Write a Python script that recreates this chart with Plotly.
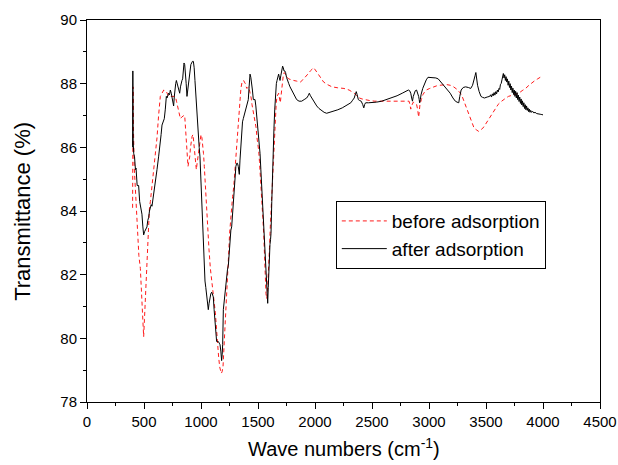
import plotly.graph_objects as go

# after adsorption (black solid)
after_x = [400, 402, 405, 410, 417, 425, 430, 440, 453, 462, 472, 482, 490, 497, 505, 512, 520, 526, 533, 541,
           548, 556, 563, 570, 585, 600, 614, 628, 643, 650, 658, 668, 678, 687, 696, 702, 708, 716, 724, 731,
           739, 746, 753, 760, 766, 772, 778, 784, 791, 798, 806, 813, 820, 827, 833, 839, 845, 851, 857, 863,
           870, 877, 883, 889, 896, 904, 911, 918, 925, 933, 940, 947, 955, 962, 970, 977, 984, 991, 998, 1006,
           1013, 1020, 1028, 1035, 1042, 1050, 1057, 1064, 1071, 1079, 1086, 1094, 1101, 1108, 1115, 1123, 1130,
           1137, 1145, 1152, 1160, 1167, 1174, 1181, 1186, 1190, 1196, 1204, 1211, 1218, 1225, 1232, 1240, 1247,
           1254, 1262, 1269, 1277, 1284, 1291, 1298, 1306, 1313, 1320, 1327, 1336, 1342, 1348, 1353, 1357, 1364,
           1371, 1379, 1386, 1393, 1400, 1408, 1415, 1422, 1430, 1437, 1444, 1451, 1459, 1466, 1474, 1481, 1488,
           1495, 1503, 1510, 1518, 1525, 1532, 1540, 1547, 1554, 1561, 1568, 1576, 1581, 1585, 1590, 1594, 1600,
           1605, 1610, 1614, 1621, 1628, 1634, 1640, 1647, 1655, 1661, 1667, 1674, 1681, 1687, 1693, 1700, 1708,
           1716, 1722, 1728, 1735, 1742, 1750, 1757, 1770, 1781, 1795, 1810, 1825, 1839, 1860, 1883, 1905, 1927,
           1940, 1950, 1960, 1971, 1990, 2015, 2035, 2059, 2080, 2102, 2130, 2164, 2200, 2239, 2275, 2314, 2330,
           2344, 2355, 2362, 2370, 2380, 2392, 2405, 2418, 2428, 2436, 2444, 2470, 2495, 2540, 2585, 2630, 2675,
           2720, 2765, 2795, 2819, 2830, 2840, 2848, 2855, 2862, 2870, 2880, 2891, 2900, 2909, 2914, 2918, 2924,
           2930, 2945, 2961, 2976, 2991, 3010, 3036, 3060, 3081, 3104, 3126, 3156, 3186, 3210, 3231, 3246, 3261,
           3270, 3282, 3300, 3321, 3345, 3366, 3382, 3396, 3404, 3411, 3418, 3426, 3440, 3456, 3470, 3487, 3510,
           3532, 3540, 3548, 3556, 3563, 3571, 3578, 3586, 3593, 3600, 3607, 3614, 3620, 3627, 3633, 3640, 3646,
           3652, 3658, 3664, 3670, 3676, 3682, 3688, 3694, 3700, 3706, 3712, 3718, 3724, 3730, 3736, 3742, 3748,
           3754, 3760, 3766, 3772, 3778, 3784, 3790, 3796, 3802, 3808, 3814, 3820, 3826, 3832, 3838, 3844, 3850,
           3856, 3862, 3868, 3874, 3880, 3886, 3892, 3900, 3910, 3920, 3930, 3945, 3960, 3975, 3990, 4000]
after_y = [86.0, 88.4, 86.2, 85.8, 85.7, 85.3, 85.35, 84.8, 84.8, 84.3, 84.1, 83.9, 83.5, 83.25, 83.35, 83.4,
           83.45, 83.5, 83.7, 83.8, 84.0, 84.1, 84.2, 84.15, 84.5, 84.9, 85.3, 85.7, 86.1, 86.4, 86.7, 86.8, 86.9,
           87.2, 87.6, 87.55, 87.6, 87.7, 87.65, 87.8, 87.7, 87.6, 87.45, 87.3, 87.6, 87.9, 88.0, 88.1, 88.0, 87.9,
           87.8, 87.7, 87.9, 88.1, 88.1, 88.15, 88.4, 88.65, 88.6, 88.4, 88.0, 87.6, 87.8, 88.0, 88.3, 88.5, 88.6,
           88.65, 88.7, 88.7, 88.5, 88.1, 87.6, 87.05, 86.7, 86.4, 86.0, 85.7, 85.0, 84.3, 83.7, 83.1, 82.4, 81.8,
           81.6, 81.4, 81.1, 80.9, 81.1, 81.3, 81.4, 81.45, 81.4, 81.3, 80.9, 80.5, 80.2, 79.9, 79.9, 79.9, 79.85,
           79.8, 79.6, 79.3, 79.5, 79.8, 80.9, 81.2, 81.5, 81.8, 82.0, 82.15, 82.3, 82.8, 83.3, 83.4, 83.5, 83.9,
           84.3, 84.8, 85.2, 85.4, 85.5, 85.5, 85.4, 85.15, 85.6, 86.05, 86.4, 86.7, 86.8, 86.9, 87.0, 87.1, 87.2,
           87.3, 87.4, 87.5, 87.9, 88.3, 88.2, 88.05, 87.8, 87.5, 87.5, 87.5, 87.3, 87.05, 86.8, 86.4, 86.1, 85.8,
           85.3, 84.75, 84.3, 83.8, 83.3, 82.8, 82.2, 81.6, 81.3, 81.1, 81.6, 82.2, 82.6, 82.95, 83.1, 83.3, 84.3,
           85.35, 86.0, 86.6, 87.2, 87.85, 88.0, 88.1, 88.2, 88.3, 88.2, 88.1, 88.25, 88.4, 88.55, 88.5, 88.4, 88.4,
           88.35, 88.2, 88.1, 88.0, 87.9, 87.8, 87.7, 87.6, 87.5, 87.45, 87.45, 87.5, 87.55, 87.62, 87.7, 87.62,
           87.55, 87.42, 87.3, 87.22, 87.15, 87.1, 87.07, 87.1, 87.13, 87.18, 87.24, 87.32, 87.4, 87.48, 87.55,
           87.68, 87.75, 87.65, 87.5, 87.47, 87.45, 87.35, 87.24, 87.35, 87.4, 87.4, 87.4, 87.42, 87.45, 87.5,
           87.55, 87.62, 87.7, 87.76, 87.8, 87.78, 87.7, 87.55, 87.45, 87.6, 87.7, 87.78, 87.8, 87.72, 87.6, 87.5,
           87.4, 87.5, 87.65, 87.85, 88.0, 88.12, 88.2, 88.2, 88.2, 88.18, 88.15, 88.05, 87.95, 87.82, 87.7, 87.55,
           87.45, 87.42, 87.4, 87.6, 87.8, 87.88, 87.9, 87.88, 87.85, 87.95, 88.1, 88.25, 88.35, 88.15, 87.95,
           87.75, 87.6, 87.57, 87.55, 87.58, 87.6, 87.65, 87.58, 87.68, 87.62, 87.72, 87.64, 87.75, 87.68, 87.8,
           87.74, 87.85, 87.82, 87.98, 88.0, 88.12, 88.2, 88.32, 88.18, 88.28, 88.1, 88.22, 88.05, 88.15, 87.95,
           88.08, 87.88, 88.0, 87.8, 87.92, 87.72, 87.86, 87.66, 87.8, 87.6, 87.76, 87.55, 87.72, 87.5, 87.64,
           87.44, 87.58, 87.38, 87.52, 87.33, 87.46, 87.28, 87.4, 87.22, 87.34, 87.18, 87.3, 87.16, 87.24, 87.12,
           87.2, 87.1, 87.16, 87.1, 87.13, 87.08, 87.1, 87.06, 87.06, 87.04, 87.03, 87.02]

# before adsorption (red dashed)
before_x = [400, 404, 408, 414, 420, 428, 440, 455, 468, 476, 482, 490, 497, 504, 512, 519, 526, 533, 541, 548,
            556, 570, 585, 600, 614, 628, 643, 658, 673, 685, 696, 706, 716, 730, 746, 760, 775, 785, 795, 807,
            819, 831, 842, 850, 857, 864, 871, 878, 886, 893, 901, 908, 915, 922, 930, 937, 944, 951, 959, 966,
            974, 981, 988, 1000, 1008, 1015, 1022, 1029, 1036, 1044, 1052, 1061, 1070, 1082, 1094, 1105, 1116,
            1126, 1136, 1146, 1155, 1164, 1171, 1178, 1185, 1193, 1200, 1208, 1215, 1222, 1230, 1237, 1244, 1251,
            1259, 1266, 1277, 1287, 1295, 1304, 1313, 1322, 1330, 1339, 1350, 1360, 1367, 1374, 1381, 1389, 1396,
            1403, 1410, 1418, 1425, 1433, 1440, 1447, 1455, 1462, 1470, 1477, 1484, 1491, 1499, 1506, 1513, 1520,
            1528, 1535, 1542, 1550, 1557, 1564, 1570, 1576, 1579, 1586, 1594, 1601, 1608, 1616, 1623, 1630, 1637,
            1645, 1652, 1660, 1667, 1674, 1681, 1688, 1696, 1700, 1705, 1710, 1716, 1723, 1731, 1738, 1745, 1757,
            1769, 1790, 1813, 1840, 1871, 1893, 1915, 1937, 1959, 1975, 1988, 2003, 2018, 2047, 2076, 2110, 2149,
            2200, 2254, 2299, 2320, 2344, 2367, 2390, 2412, 2435, 2480, 2525, 2585, 2645, 2705, 2765, 2800, 2825,
            2832, 2840, 2847, 2855, 2862, 2870, 2880, 2891, 2900, 2905, 2909, 2914, 2921, 2933, 2946, 2960, 2976,
            3006, 3036, 3066, 3096, 3126, 3156, 3186, 3216, 3246, 3276, 3291, 3306, 3320, 3335, 3351, 3366, 3381,
            3396, 3416, 3436, 3454, 3472, 3495, 3517, 3540, 3562, 3585, 3607, 3630, 3652, 3675, 3697, 3720, 3742,
            3765, 3787, 3817, 3847, 3877, 3907, 3930, 3953, 3975, 3998]
before_y = [84.1, 87.9, 86.5, 85.4, 85.0, 84.5, 83.6, 82.6, 82.2, 81.5, 81.2, 80.5, 80.05, 80.6, 81.2, 81.8,
            82.45, 83.1, 83.8, 84.1, 84.3, 84.75, 85.2, 85.75, 86.3, 87.0, 87.6, 87.7, 87.8, 87.78, 87.75, 87.68,
            87.6, 87.6, 87.6, 87.6, 87.6, 87.45, 87.25, 87.05, 86.9, 86.95, 87.0, 87.0, 87.0, 86.6, 86.2, 85.8,
            85.4, 85.55, 85.7, 86.0, 86.2, 86.35, 86.4, 86.1, 85.8, 85.55, 85.3, 85.5, 85.7, 86.0, 86.2, 86.4, 86.3,
            86.1, 85.8, 85.4, 84.9, 84.3, 83.8, 83.3, 82.8, 82.2, 81.85, 81.5, 81.15, 80.8, 80.3, 79.7, 79.4, 79.1,
            78.95, 78.9, 78.95, 79.1, 79.6, 80.1, 80.65, 81.2, 81.7, 82.2, 82.75, 83.3, 83.7, 84.1, 84.45, 84.75,
            85.15, 85.6, 86.0, 86.4, 86.95, 87.5, 87.85, 88.05, 88.1, 88.1, 88.05, 88.0, 87.9, 87.85, 87.88, 87.9,
            87.8, 87.7, 87.55, 87.35, 87.2, 87.05, 86.95, 86.85, 86.6, 86.3, 86.1, 85.9, 85.55, 85.2, 84.75, 84.3,
            83.8, 83.3, 82.5, 81.6, 81.4, 81.25, 81.3, 81.7, 82.2, 82.85, 83.5, 84.1, 84.75, 85.4, 86.0, 86.6, 87.2,
            87.4, 87.6, 87.65, 87.7, 87.55, 87.4, 87.55, 87.7, 87.95, 88.2, 88.3, 88.35, 88.3, 88.25, 88.2, 88.15,
            88.12, 88.1, 88.08, 88.05, 88.12, 88.2, 88.3, 88.4, 88.47, 88.5, 88.43, 88.35, 88.2, 88.05, 87.97, 87.9,
            87.87, 87.85, 87.8, 87.76, 87.7, 87.62, 87.55, 87.52, 87.5, 87.47, 87.45, 87.45, 87.45, 87.45, 87.45,
            87.45, 87.45, 87.35, 87.2, 87.3, 87.4, 87.42, 87.4, 87.38, 87.35, 87.2, 87.05, 86.95, 87.1, 87.35, 87.5,
            87.65, 87.73, 87.8, 87.85, 87.9, 87.93, 87.95, 87.96, 87.97, 87.95, 87.9, 87.82, 87.7, 87.6, 87.45,
            87.3, 87.15, 87.0, 86.85, 86.7, 86.6, 86.55, 86.5, 86.55, 86.6, 86.72, 86.85, 86.98, 87.1, 87.22,
            87.35, 87.43, 87.5, 87.55, 87.6, 87.63, 87.65, 87.68, 87.7, 87.78, 87.85, 87.95, 88.05, 88.1, 88.15,
            88.2, 88.25]

x_ticks = [0, 500, 1000, 1500, 2000, 2500, 3000, 3500, 4000, 4500]
y_ticks = [78, 80, 82, 84, 86, 88, 90]

FONT = "Arial, Liberation Sans, sans-serif"

fig = go.Figure()
fig.add_trace(go.Scatter(x=before_x, y=before_y, mode="lines", name="before adsorption",
                         line=dict(color="#ff1a1a", width=1, dash="4px,3px")))
fig.add_trace(go.Scatter(x=after_x, y=after_y, mode="lines", name="after adsorption",
                         line=dict(color="black", width=1)))

axis_common = dict(showgrid=False, zeroline=False, showline=True, linecolor="black", linewidth=1,
                   mirror=True, ticks="outside", ticklen=6, tickwidth=1, tickcolor="black",
                   tickfont=dict(family=FONT, size=15, color="black"))

fig.update_xaxes(range=[0, 4500], tickvals=x_ticks, ticktext=[str(v) for v in x_ticks],
                 minor=dict(dtick=250, ticks="outside", ticklen=3, tickcolor="black"),
                 **axis_common)
fig.update_yaxes(range=[78, 90], tickvals=y_ticks, ticktext=[str(v) for v in y_ticks],
                 minor=dict(dtick=1, ticks="outside", ticklen=3, tickcolor="black"),
                 **axis_common)

fig.update_layout(
    width=618, height=465,
    margin=dict(l=87, r=18, t=20, b=63, autoexpand=False),
    paper_bgcolor="white", plot_bgcolor="white",
    showlegend=True,
    legend=dict(x=0.485, y=0.437, xanchor="left", yanchor="middle",
                bordercolor="black", borderwidth=1, bgcolor="white",
                font=dict(family=FONT, size=19, color="black"),
                tracegroupgap=0, itemwidth=45),
    annotations=[
        dict(text="Wave numbers (cm<sup>-1</sup>)", x=0.5, y=-0.12, xref="paper", yref="paper",
             xanchor="center", yanchor="middle", showarrow=False,
             font=dict(family=FONT, size=20, color="black")),
        dict(text="Transmittance (%)", x=-0.127, y=0.5, xref="paper", yref="paper",
             xanchor="center", yanchor="middle", showarrow=False, textangle=-90,
             font=dict(family=FONT, size=22, color="black")),
    ],
)

fig.write_html("out.html", config={"displayModeBar": False},
               post_script="document.body.style.margin='0';")
